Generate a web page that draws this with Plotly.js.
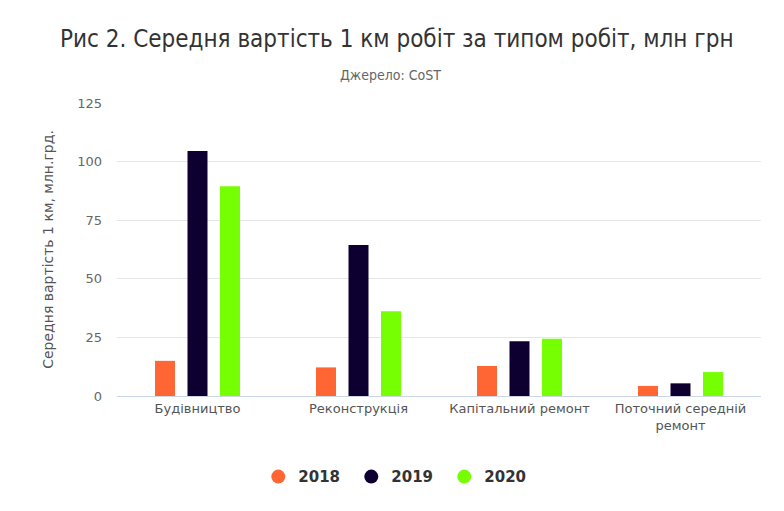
<!DOCTYPE html>
<html>
<head>
<meta charset="utf-8">
<script src="https://cdn.plot.ly/plotly-3.0.1.min.js"></script>
<style>
  body { margin: 0; background: #fff; }
  #chart { width: 784px; height: 511px; }
</style>
</head>
<body>
<div id="chart"></div>
<script>
var categories = ['Будівництво', 'Реконструкція', 'Капітальний ремонт', 'Поточний середній<br>ремонт'];
var years = ['2018', '2019', '2020'];
var colors = ['#ff6633', '#0d0030', '#76ff03'];

var values2018 = [15, 12.2, 12.8, 4.3];
var values2019 = [104.5, 64.4, 23.4, 5.4];
var values2020 = [89.5, 36.2, 24.4, 10.2];

var series = [values2018, values2019, values2020];

var data = [];
series.forEach(function (vals, i) {
  data.push({
    x: categories,
    y: vals,
    name: years[i],
    type: 'bar',
    marker: { color: colors[i] },
    legendgroup: years[i],
    showlegend: false,
    hovertemplate: '%{x}<br>' + years[i] + ': %{y}<extra></extra>'
  });
});
// legend entries drawn as circles
years.forEach(function (yr, i) {
  data.push({
    x: [null],
    y: [null],
    name: yr,
    type: 'scatter',
    mode: 'markers',
    marker: { color: colors[i], size: 14 },
    legendgroup: yr,
    showlegend: true
  });
});

var layout = {
  width: 784,
  height: 511,
  margin: { l: 117, r: 23, t: 103, b: 115 },
  paper_bgcolor: '#fff',
  plot_bgcolor: '#fff',
  font: { family: 'DejaVu Sans, Verdana, sans-serif', color: '#666' },
  title: {
    text: 'Рис 2. Середня вартість 1 км робіт за типом робіт, млн грн',
    font: { family: 'DejaVu Sans Condensed, Liberation Sans Narrow, sans-serif', size: 24, color: '#333' },
    x: 0.506,
    xanchor: 'center',
    y: 0.925,
    yanchor: 'middle'
  },
  annotations: [{
    text: 'Джерело: CoST',
    xref: 'paper', yref: 'paper',
    x: 0.424, y: 1.096,
    xanchor: 'center', yanchor: 'middle',
    showarrow: false,
    font: { family: 'DejaVu Sans Condensed, Liberation Sans Narrow, sans-serif', size: 14, color: '#666' }
  }],
  barmode: 'group',
  bargap: 0.394,
  bargroupgap: 0.385,
  xaxis: {
    type: 'category',
    showgrid: false,
    showline: true,
    linecolor: '#ccd6eb',
    linewidth: 1,
    ticks: '',
    tickfont: { size: 13, color: '#555' },
    fixedrange: true
  },
  yaxis: {
    range: [0, 125],
    dtick: 25,
    showgrid: true,
    gridcolor: '#e6e6e6',
    zeroline: false,
    ticks: '',
    ticklabelstandoff: 14,
    tickfont: { size: 13, color: '#666' },
    title: {
      text: 'Середня вартість 1 км, млн.грд.',
      font: { size: 14, color: '#555' },
      standoff: 20
    },
    fixedrange: true
  },
  legend: {
    orientation: 'h',
    x: 0.436,
    xanchor: 'center',
    y: -0.276,
    yanchor: 'middle',
    entrywidth: 48,
    font: { size: 15, color: '#333', weight: 'bold' },
    itemclick: false
  },
  showlegend: true
};

Plotly.newPlot('chart', data, layout, { displayModeBar: false });
</script>
</body>
</html>
